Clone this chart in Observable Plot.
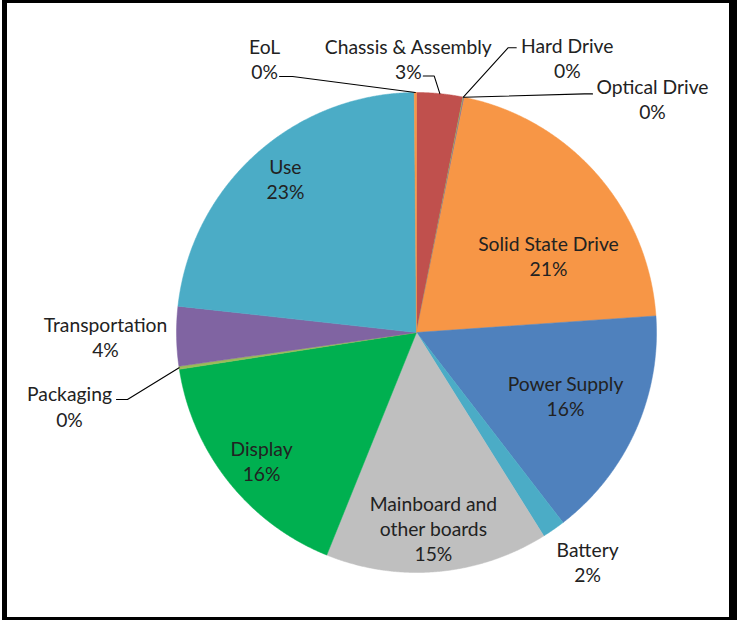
<!DOCTYPE html>
<html>
<head>
<meta charset="utf-8">
<script src="https://cdn.jsdelivr.net/npm/d3@7"></script>
<script src="https://cdn.jsdelivr.net/npm/@observablehq/plot@0.6"></script>
<style>
html, body { margin: 0; padding: 0; background: #fff; }
#chart { position: absolute; left: 0; top: 0; }
#frame { position: absolute; left: 2px; top: 0; width: 735px; height: 620px; box-sizing: border-box;
  border-top: 3px solid #000; border-left: 5px solid #000; border-right: 8px solid #000; border-bottom: 3px solid #000;
  pointer-events: none; z-index: 2; }
</style>
</head>
<body>
<div id="chart"></div>
<div id="frame"></div>
<script>
// ---- data ----
const categories = ["Chassis & Assembly", "Hard Drive", "Optical Drive", "Solid State Drive", "Power Supply",
  "Battery", "Mainboard and other boards", "Display", "Packaging", "Transportation", "Use", "EoL"];
const shares = [3.1, 0.05, 0.05, 20.7, 15.65, 1.55, 15.0, 16.45, 0.2, 4.0, 23.1, 0.15];
const labelNames = ["Chassis & Assembly", "Hard Drive", "Optical Drive", "Solid State Drive", "Power Supply",
  "Battery", "Mainboard and\nother boards", "Display", "Packaging", "Transportation", "Use", "EoL"];

// ---- styles / layout ----
const colors = ["#C0504D", "#9BBB59", "#8064A2", "#F79646", "#4F81BD", "#4BACC6",
  "#BFBFBF", "#00B050", "#9BBB59", "#8064A2", "#4BACC6", "#F79646"];
// label placement: angular nudge (deg) from slice middle and radius (fraction of pie radius)
const labelShift = [-7.3, 17.5, 33.8, 10.9, -1.3, -1.9, 0.1, -1.1, -3.5, 0.25, 1.8, -28.7];
const labelRadius = [1.144, 1.306, 1.385, 0.637, 0.674, 1.192, 0.816, 0.837, 1.478, 1.296, 0.844, 1.307];
// leader lines: [start offset px, elbow offset px] from label centre; null = none
const leaders = [[[15, 18], [26, 18]], [[-51, -10], [-59, -10]], [[-60, -4.5], [-68, -4.5]], null, null, null, null, null,
  [[47, -6.5], [58, -6.5]], null, null, [[15, 18.5], [28, 18.5]]];

const R = 240, cx = 416, cy = 332, W = 737, H = 620;
const px = R; // pixels per data unit

const table = categories.map((name, i) => ({name, share: shares[i], label: labelNames[i], i}));
const arcs = d3.pie().sort(null).value(d => d.share).startAngle(0).endAngle(2 * Math.PI)(table);

const slicePts = arcs.flatMap(a => {
  const n = Math.max(2, Math.ceil((a.endAngle - a.startAngle) / (Math.PI / 720)));
  const pts = [{x: 0, y: 0, name: a.data.name}];
  for (let k = 0; k <= n; k++) {
    const t = a.startAngle + (a.endAngle - a.startAngle) * k / n;
    pts.push({x: Math.sin(t), y: Math.cos(t), name: a.data.name});
  }
  pts.push({x: 0, y: 0, name: a.data.name});
  return pts;
});

const labels = arcs.map(a => {
  const i = a.data.i;
  const mid = (a.startAngle + a.endAngle) / 2 + labelShift[i] * Math.PI / 180;
  return {x: labelRadius[i] * Math.sin(mid), y: labelRadius[i] * Math.cos(mid),
    text: a.data.label + "\n" + Math.round(a.data.share) + "%", name: a.data.name};
});

const leaderPts = arcs.flatMap(a => {
  const i = a.data.i, L = leaders[i];
  if (!L) return [];
  const lab = labels[i];
  const mid = (a.startAngle + a.endAngle) / 2;
  return [
    {x: lab.x + L[0][0] / px, y: lab.y - L[0][1] / px, name: a.data.name},
    {x: lab.x + L[1][0] / px, y: lab.y - L[1][1] / px, name: a.data.name},
    {x: Math.sin(mid), y: Math.cos(mid), name: a.data.name}
  ];
});

const chart = Plot.plot({
  width: W, height: H,
  marginLeft: cx - R, marginRight: W - cx - R, marginTop: cy - R, marginBottom: H - cy - R,
  x: {domain: [-1, 1], axis: null},
  y: {domain: [-1, 1], axis: null},
  color: {domain: categories, range: colors},
  style: {fontFamily: "Lato, sans-serif", background: "transparent"},
  marks: [
    Plot.line(slicePts, {x: "x", y: "y", z: "name", fill: "name", stroke: "name", strokeWidth: 0.5}),
    Plot.line(leaderPts, {x: "x", y: "y", z: "name", stroke: "#000", strokeWidth: 1.1}),
    Plot.text(labels, {x: "x", y: "y", text: "text", fill: "#222", fontSize: 19.3, lineHeight: 1.3})
  ]
});
document.getElementById("chart").appendChild(chart);
</script>
</body>
</html>
